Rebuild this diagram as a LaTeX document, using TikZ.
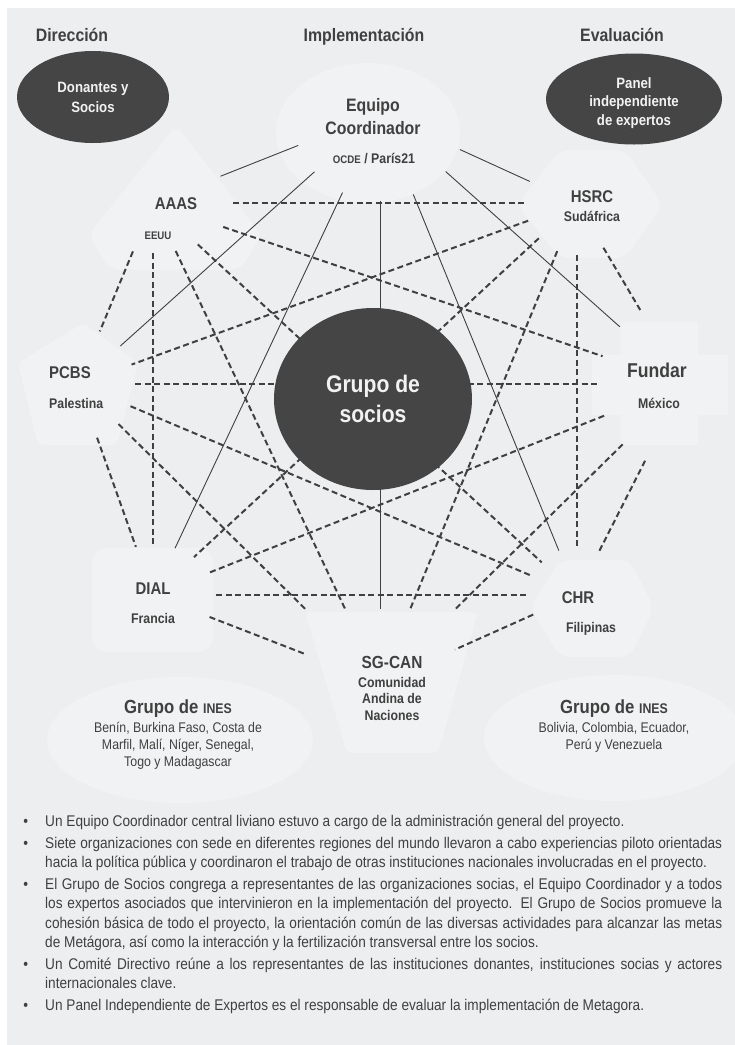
\documentclass[tikz,border=0pt]{standalone}
\usepackage{fontspec}
\setmainfont{Liberation Sans}[FakeStretch=0.88]
\usetikzlibrary{shapes.geometric}
\definecolor{bgcol}{HTML}{EDEEF0}
\definecolor{blobcol}{HTML}{F1F2F3}
\definecolor{darkfill}{HTML}{454545}
\definecolor{inkcol}{HTML}{404040}
\newcommand{\fsz}[2]{\fontsize{#1}{#2}\selectfont}
\tikzset{
  hub/.style={inner sep=0, outer sep=0},
  dashline/.style={draw=inkcol, line width=2pt, dash pattern=on 6pt off 3.5pt},
  solidline/.style={draw=inkcol, line width=0.9pt},
  darkoval/.style={ellipse, fill=darkfill, text=white!95!black, font=\bfseries, align=center, inner sep=0},
  lbl/.style={text=inkcol, align=center, inner sep=0},
}
\begin{document}
\begin{tikzpicture}[x=1pt,y=-1pt]
    \useasboundingbox (0,0) rectangle (735,1045);
    \fill[bgcol] (7,8) rectangle (735,1045);
    % faint shapes behind the partners
    \fill[blobcol] (368,133) ellipse [x radius=92, y radius=70];
    \fill[blobcol, rounded corners=10pt] (176,125) -- (262,235) -- (240,270) -- (110,270) -- (88,235) -- cycle;
    \fill[blobcol, rounded corners=10pt] (560,150) -- (625,150) -- (663,205) -- (625,258) -- (560,258) -- (517,205) -- cycle;
    \fill[blobcol, rounded corners=6pt] (83,323) -- (138,363) -- (117,445) -- (38,445) -- (18,363) -- cycle;
    \fill[blobcol] (621,322) rectangle (698,445); \fill[blobcol] (592,355) rectangle (728,415);
    \fill[blobcol, rounded corners=15pt] (92,548) rectangle (213,652);
    \fill[blobcol, rounded corners=10pt] (560,560) -- (630,560) -- (654,608) -- (630,657) -- (560,657) -- (530,608) -- cycle;
    \fill[blobcol, rounded corners=6pt] (305,612) -- (478,612) -- (438,753) -- (347,753) -- cycle;
    \fill[blobcol] (180,740) ellipse [x radius=133, y radius=63];
    \fill[blobcol] (614,738) ellipse [x radius=130, y radius=63];

    % hubs
    \node[hub, circle, minimum size=176pt] (equipo) at (380,113) {};
    \node[hub, ellipse, minimum width=160pt, minimum height=100pt] (aaas) at (153,203) {};
    \node[hub, circle, minimum size=104pt] (hsrc) at (577,203) {};
    \node[hub, circle, minimum size=114pt] (pcbs) at (78,384) {};
    \node[hub, circle, minimum size=172pt] (fundar) at (684,384) {};
    \node[hub, ellipse, minimum width=126pt, minimum height=100pt] (dial) at (153,595) {};
    \node[hub, circle, minimum size=96pt] (chr) at (577,595) {};
    \node[hub, rectangle, minimum width=150pt, minimum height=148pt] (sgcan) at (380,683) {};

    \foreach \n in {aaas,hsrc,pcbs,fundar,dial,chr,sgcan}
        \draw[solidline] (equipo) -- (\n);
    \foreach \a/\b in {aaas/hsrc,aaas/pcbs,aaas/dial,aaas/sgcan,aaas/chr,aaas/fundar,
        hsrc/pcbs,hsrc/dial,hsrc/sgcan,hsrc/chr,hsrc/fundar,
        pcbs/fundar,pcbs/chr,pcbs/sgcan,pcbs/dial,
        fundar/dial,fundar/sgcan,fundar/chr,
        dial/chr,dial/sgcan,chr/sgcan}
        \draw[dashline] (\a) -- (\b);

    \node[darkoval, minimum width=198pt, minimum height=182pt, font=\bfseries\fsz{24}{30}] (grupo) at (373,399) {Grupo de\\socios};
    \node[darkoval, minimum width=152pt, minimum height=92pt, font=\bfseries\fsz{15}{20}] (donantes) at (93,97) {Donantes y\\Socios};
    \node[darkoval, minimum width=176pt, minimum height=91pt, font=\bfseries\fsz{15}{18.5}] (panel) at (634,99) {\rule{0pt}{19pt}Panel\\independiente\\de expertos};

    % titles and labels
    \node[lbl, font=\bfseries\fsz{18}{22}, anchor=base] (dir-lbl) at (72,41.5) {Dirección};
    \node[lbl, font=\bfseries\fsz{18}{22}, anchor=base] (impl-lbl) at (364,41.5) {Implementación};
    \node[lbl, font=\bfseries\fsz{18}{22}, anchor=base] (eval-lbl) at (622,41.5) {Evaluación};
    \node[lbl, font=\bfseries\fsz{18}{23}, anchor=base] (equipo-lbl) at (373,134.5) {Equipo\\Coordinador};
    \node[lbl, font=\bfseries\fsz{14}{16}, anchor=base] (equipo-sub) at (374,163) {{\fsz{11}{13}OCDE} / París21};
    \node[lbl, font=\bfseries\fsz{17}{20}, anchor=base] (aaas-lbl) at (176,209) {AAAS};
    \node[lbl, font=\bfseries\fsz{11}{13}, anchor=base] (aaas-sub) at (158,239) {EEUU};
    \node[lbl, font=\bfseries\fsz{17}{20}, anchor=base] (hsrc-lbl) at (592,202) {HSRC};
    \node[lbl, font=\bfseries\fsz{14}{16}, anchor=base] (hsrc-sub) at (592,221) {Sudáfrica};
    \node[lbl, font=\bfseries\fsz{17}{20}, anchor=base west] (pcbs-lbl) at (49,378) {PCBS};
    \node[lbl, font=\bfseries\fsz{14}{16}, anchor=base west] (pcbs-sub) at (49,408) {Palestina};
    \node[lbl, font=\bfseries\fsz{20}{22}, anchor=base] (fundar-lbl) at (657,377) {Fundar};
    \node[lbl, font=\bfseries\fsz{14}{16}, anchor=base] (fundar-sub) at (659,408) {México};
    \node[lbl, font=\bfseries\fsz{17}{20}, anchor=base] (dial-lbl) at (153,594) {DIAL};
    \node[lbl, font=\bfseries\fsz{14}{16}, anchor=base] (dial-sub) at (153,623) {Francia};
    \node[lbl, font=\bfseries\fsz{17}{20}, anchor=base] (chr-lbl) at (578,603) {CHR};
    \node[lbl, font=\bfseries\fsz{14}{16}, anchor=base] (chr-sub) at (591,632) {Filipinas};
    \node[lbl, font=\bfseries\fsz{17.5}{20}, anchor=base] (sgcan-lbl) at (392,668) {SG-CAN};
    \node[lbl, font=\bfseries\fsz{14}{16.5}, anchor=base] (sgcan-sub) at (392,720) {Comunidad\\Andina de\\Naciones};
    \node[lbl, font=\bfseries\fsz{19}{22}, anchor=base] (inesA-lbl) at (178,713) {Grupo de {\fsz{14}{16}INES}};
    \node[lbl, font=\fsz{14}{17}, anchor=base] (inesA-sub) at (178,766) {Benín, Burkina Faso, Costa de\\Marfil, Malí, Níger, Senegal,\\Togo y Madagascar};
    \node[lbl, font=\bfseries\fsz{19}{22}, anchor=base] (inesB-lbl) at (614,713) {Grupo de {\fsz{14}{16}INES}};
    \node[lbl, font=\fsz{14}{17}, anchor=base] (inesB-sub) at (614,749) {Bolivia, Colombia, Ecuador,\\Perú y Venezuela};

    % notes
    \node[anchor=north west, inner sep=0, text width=699pt, text=inkcol, font=\fsz{15.5}{19.5}, align=justify] (notes) at (23,807) {%
      \hyphenpenalty=10000 \exhyphenpenalty=10000
      \begin{list}{\textbullet}{\setlength{\leftmargin}{22pt}\setlength{\labelwidth}{5pt}\setlength{\labelsep}{17pt}%
        \setlength{\itemsep}{2pt}\setlength{\parsep}{0pt}\setlength{\topsep}{0pt}\setlength{\partopsep}{0pt}}
      \item Un Equipo Coordinador central liviano estuvo a cargo de la administración general del proyecto.
      \item Siete organizaciones con sede en diferentes regiones del mundo llevaron a cabo experiencias piloto orientadas\linebreak hacia la política pública y coordinaron el trabajo de otras instituciones nacionales involucradas en el proyecto.
      \item El Grupo de Socios congrega a representantes de las organizaciones socias, el Equipo Coordinador y a todos\linebreak los expertos asociados que intervinieron en la implementación del proyecto. El Grupo de Socios promueve la\linebreak cohesión básica de todo el proyecto, la orientación común de las diversas actividades para alcanzar las metas\linebreak de Metágora, así como la interacción y la fertilización transversal entre los socios.
      \item Un Comité Directivo reúne a los representantes de las instituciones donantes, instituciones socias y actores\linebreak internacionales clave.
      \item Un Panel Independiente de Expertos es el responsable de evaluar la implementación de Metagora.
      \end{list}};
\end{tikzpicture}
\end{document}
